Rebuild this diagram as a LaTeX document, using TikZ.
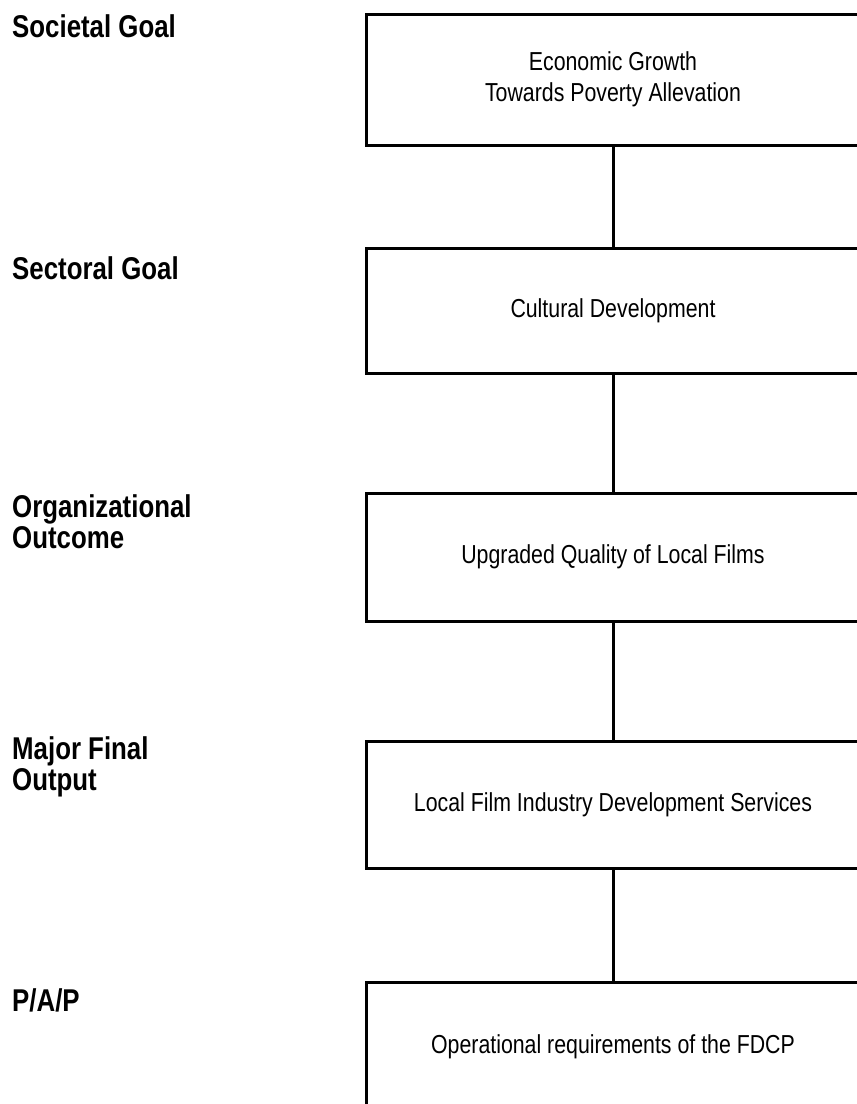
\documentclass[tikz,border=0pt]{standalone}
\usepackage{fontspec}
\setmainfont{Liberation Sans}[FakeStretch=0.82]
\usetikzlibrary{positioning}

\begin{document}
\begin{tikzpicture}[x=1pt, y=-1pt,
    stagebox/.style={draw, line width=3pt, inner sep=0pt, outer sep=0pt,
        minimum width=494pt, align=center,
        font=\fontsize{26}{31}\selectfont},
    levellabel/.style={anchor=base west, inner sep=0pt, align=left,
        font=\bfseries\fontsize{31.5}{31}\selectfont},
    link/.style={line width=3pt}]
    \useasboundingbox (0,0) rectangle (857,1104);
    \clip (0,0) rectangle (857,1104);

    % the chain of boxes, from the goal down to the programme
    \node (society) [stagebox, minimum height=131pt] at (613,79.5) {Economic Growth\\Towards Poverty Allevation};
    \node (sector) [stagebox, minimum height=125pt, below=103pt of society] {Cultural Development};
    \node (outcome) [stagebox, minimum height=128pt, below=120pt of sector] {Upgraded Quality of Local Films};
    \node (output) [stagebox, minimum height=127pt, below=120pt of outcome] {Local Film Industry Development Services};
    \node (pap) [stagebox, minimum height=130pt, below=114pt of output] {Operational requirements of the FDCP};

    \draw[link] (society) -- (sector);
    \draw[link] (sector) -- (outcome);
    \draw[link] (outcome) -- (output);
    \draw[link] (output) -- (pap);

    % level names on the left (base = last line)
    \node (societyname) [levellabel] at (12,37) {Societal Goal};
    \node (sectorname) [levellabel] at (12,279) {Sectoral Goal};
    \node (outcomename) [levellabel] at (12,548) {Organizational\\Outcome};
    \node (outputname) [levellabel] at (12,790) {Major Final\\Output};
    \node (papname) [levellabel] at (12,1011) {P/A/P};
\end{tikzpicture}
\end{document}
